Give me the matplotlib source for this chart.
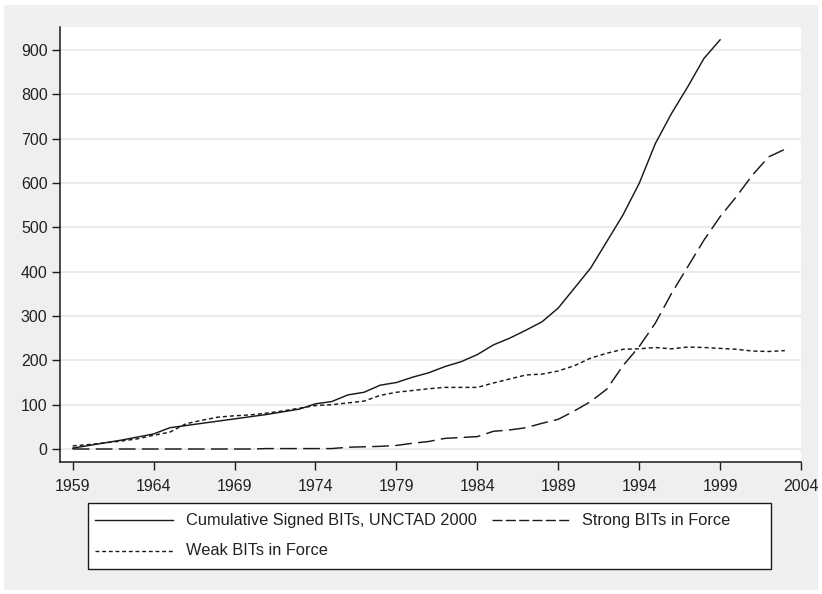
import matplotlib
matplotlib.use("Agg")
import matplotlib.pyplot as plt
from matplotlib.lines import Line2D
from matplotlib.patches import Rectangle

plt.rcParams['font.family'] = ['Liberation Sans', 'DejaVu Sans']

# data
years_signed = list(range(1959, 2000))
signed = [2, 8, 14, 20, 27, 34, 48, 53, 58, 63, 68, 73, 78, 84, 90,
          102, 107, 122, 128, 144, 150, 162, 172, 186, 197, 213, 235,
          250, 268, 287, 318, 363, 408, 468, 528, 599, 689, 757, 817,
          881, 923]

years_force = list(range(1959, 2004))
strong = [0, 0, 0, 0, 0, 0, 0, 0, 0, 0, 0, 0, 1, 1, 1, 1, 1, 4, 5, 6,
          8, 13, 17, 24, 26, 28, 40, 43, 48, 58, 67, 86, 107, 135, 188,
          231, 284, 351, 411, 471, 524, 569, 618, 659, 676]
weak = [7, 10, 14, 18, 23, 31, 38, 57, 65, 72, 75, 77, 81, 86, 92,
        98, 100, 104, 108, 121, 128, 132, 136, 139, 139, 139, 149,
        158, 167, 169, 176, 188, 205, 216, 225, 226, 229, 226, 230,
        229, 227, 225, 221, 220, 222]

xticks = list(range(1959, 2005, 5))
yticks = list(range(0, 1000, 100))

labels = ['Cumulative Signed BITs, UNCTAD 2000', 'Strong BITs in Force',
          'Weak BITs in Force']

ink = '#1a1a1a'
bg = '#eeeff1'

fig = plt.figure(figsize=(8.22, 5.94), dpi=100)
fig.patch.set_facecolor('white')
fig.add_artist(Rectangle((4 / 822, 4 / 594), 814 / 822, 585 / 594,
                         transform=fig.transFigure, facecolor=bg,
                         edgecolor='none', zorder=-10))

ax = fig.add_axes([60 / 822, 132 / 594, 741 / 822, 435 / 594])
ax.set_facecolor('white')

dash_long = (11.5, 4.3)
dash_short = (2.8, 2.0)

ax.plot(years_signed, signed, color=ink, lw=1.05, solid_joinstyle='round')
ax.plot(years_force, strong, color=ink, lw=1.05, dashes=dash_long)
ax.plot(years_force, weak, color=ink, lw=1.05, dashes=dash_short)

ax.set_xlim(1958.215, 2004)
ax.set_ylim(-29.3, 952)
ax.set_xticks(xticks)
ax.set_yticks(yticks)
ax.tick_params(axis='both', direction='out', length=6, width=1.0,
               color=ink, labelcolor='#222222', labelsize=11.5)
ax.tick_params(axis='x', pad=6)
ax.tick_params(axis='y', pad=3)
for y in yticks:
    ax.axhline(y, color='#e6e7e9', lw=1.2, zorder=0)

for s in ['top', 'right']:
    ax.spines[s].set_visible(False)
for s in ['left', 'bottom']:
    ax.spines[s].set_color(ink)
    ax.spines[s].set_linewidth(1.1)

# legend drawn as a box below the plot, Stata style
fig.add_artist(Rectangle((87.5 / 822, 1 - 569 / 594), 683 / 822, 66.5 / 594,
                         transform=fig.transFigure, facecolor='white',
                         edgecolor=ink, lw=1.0))
rows = [(1 - 520 / 594), (1 - 550.5 / 594)]
entries = [
    (95, 173, rows[0], None, labels[0]),
    (492, 569, rows[0], (7.2, 2.4), labels[1]),
    (95, 173, rows[1], dash_short, labels[2]),
]
for x0, x1, yy, dsh, lab in entries:
    kw = dict(color=ink, lw=1.0, transform=fig.transFigure)
    ln = Line2D([x0 / 822, x1 / 822], [yy, yy], **kw)
    if dsh is not None:
        ln.set_dashes(dsh)
    fig.add_artist(ln)
    fig.text((x1 + 12.5) / 822, yy, lab, va='center', ha='left',
             fontsize=11.8, color='#222222')

fig.savefig('out.png', dpi=100, facecolor=fig.get_facecolor())
